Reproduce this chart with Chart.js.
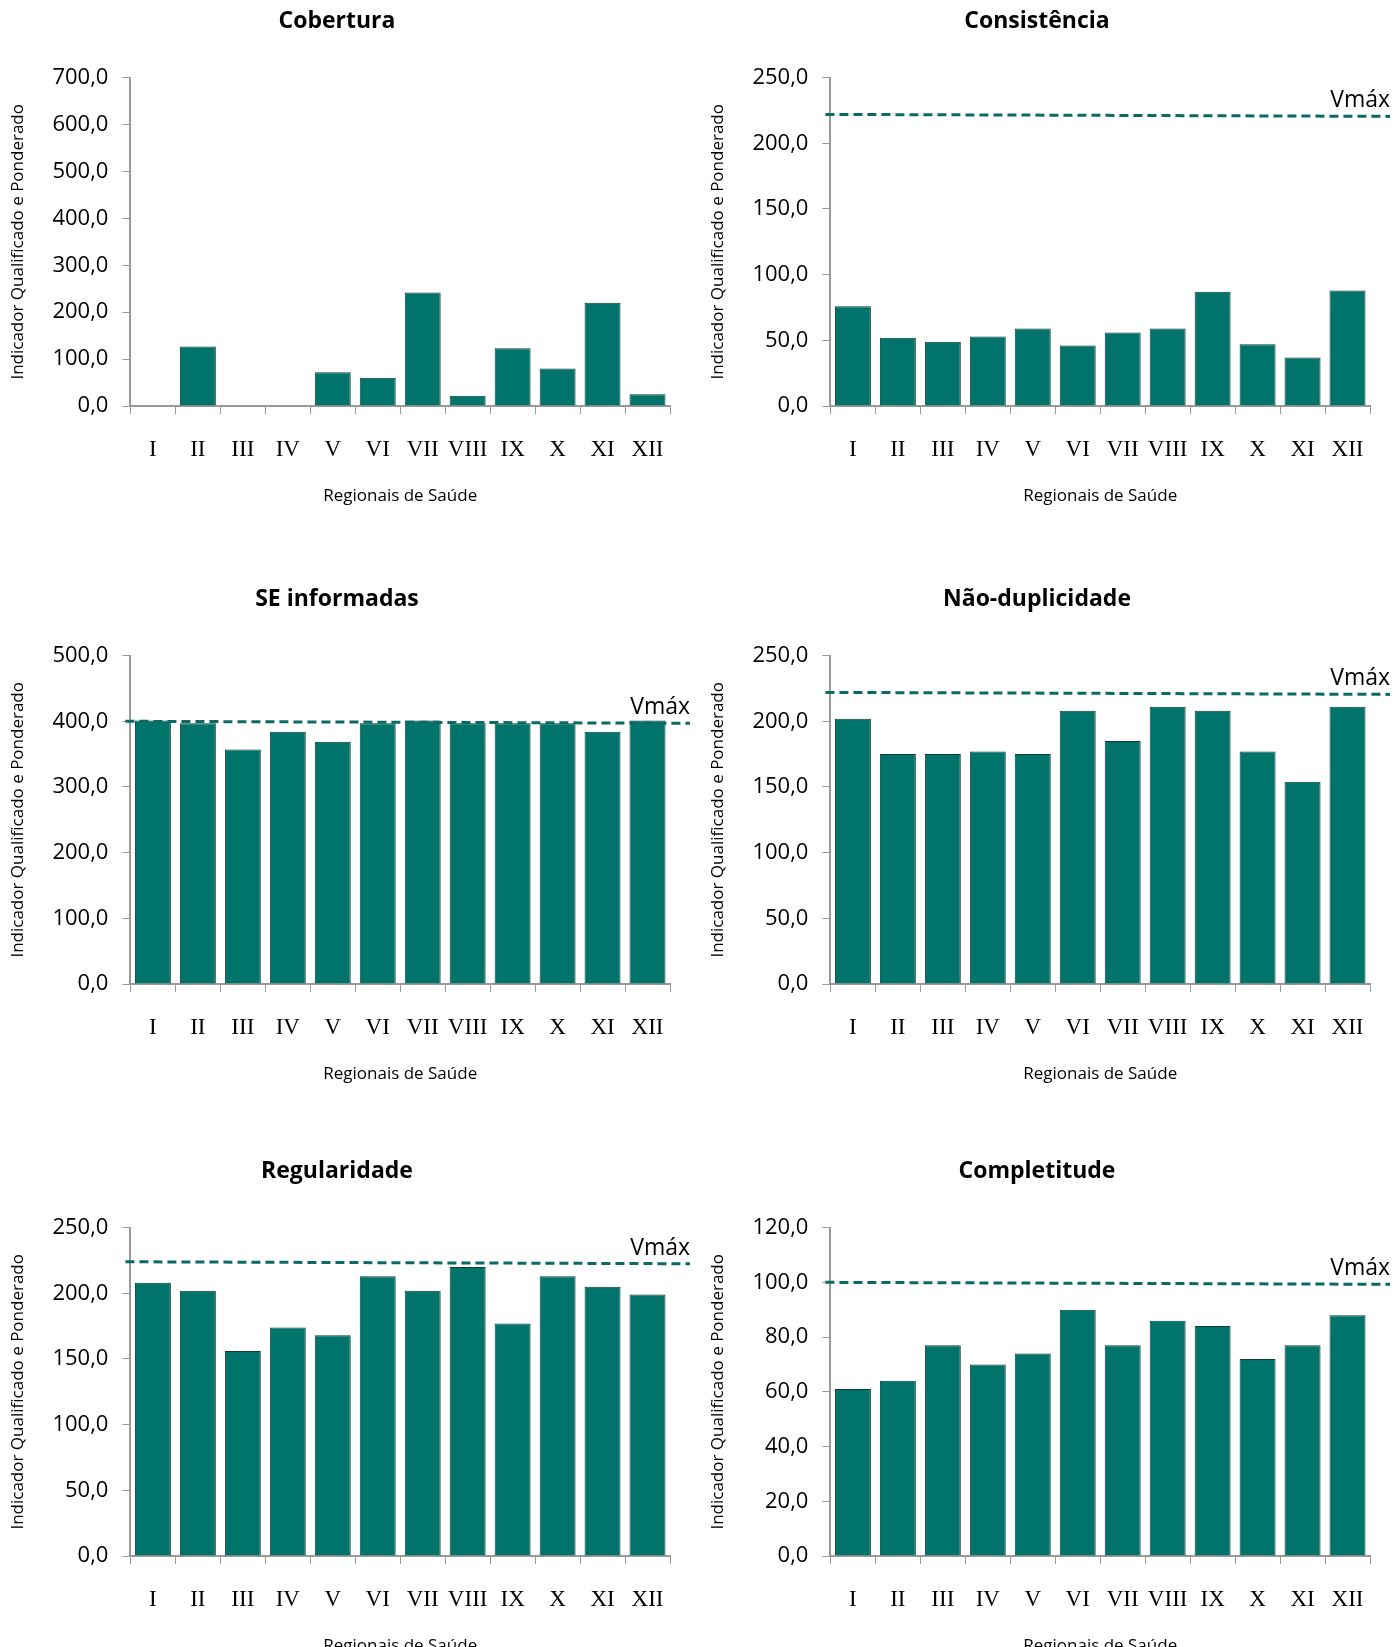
<!DOCTYPE html>
<html><head><meta charset="utf-8">
<script src="https://cdn.jsdelivr.net/npm/chart.js@4.4.1/dist/chart.umd.min.js"></script>
<style>
body{margin:0;background:#fff;width:1397px;height:1647px;overflow:hidden}
.p{position:absolute;width:698px;height:510px}
</style></head><body>
<div class="p" style="left:0;top:0"><canvas id="c0" width="698" height="510"></canvas></div>
<div class="p" style="left:700px;top:0"><canvas id="c1" width="698" height="510"></canvas></div>
<div class="p" style="left:0;top:578px"><canvas id="c2" width="698" height="510"></canvas></div>
<div class="p" style="left:700px;top:578px"><canvas id="c3" width="698" height="510"></canvas></div>
<div class="p" style="left:0;top:1150px"><canvas id="c4" width="698" height="510"></canvas></div>
<div class="p" style="left:700px;top:1150px"><canvas id="c5" width="698" height="510"></canvas></div>
<script>
const regions = ['I','II','III','IV','V','VI','VII','VIII','IX','X','XI','XII'];
const titles = ['Cobertura','Consistência','SE informadas','Não-duplicidade','Regularidade','Completitude'];
const cobertura = [0,127,0,0,72,60,242,22,123,80,220,25];
const consistencia = [76,52,49,53,59,46,56,59,87,47,37,88];
const seInformadas = [401,397,357,384,369,397,401,397,397,397,384,401];
const naoDuplicidade = [202,175,175,177,175,208,185,211,208,177,154,211];
const regularidade = [208,202,156,174,168,213,202,220,177,213,205,199];
const completitude = [61,64,77,70,74,90,77,86,84,72,77,88];
const yMax = [700,250,500,250,250,120];
const yStep = [100,50,100,50,50,20];
const vmax = [null,222,400,222,224,100];
const series = [cobertura,consistencia,seInformadas,naoDuplicidade,regularidade,completitude];

const teal = '#00736A';
const vmaxPlugin = {
  id: 'vmax',
  afterDatasetsDraw(chart, args, opts) {
    if (opts.value == null) return;
    const {ctx, chartArea} = chart;
    const y = chart.scales.y.getPixelForValue(opts.value);
    ctx.save();
    ctx.strokeStyle = '#0b6b64';
    ctx.lineWidth = 3;
    ctx.setLineDash([9,5]);
    ctx.beginPath();
    ctx.moveTo(chartArea.left - 5, y);
    ctx.lineTo(chartArea.right + 20, y + 2);
    ctx.stroke();
    ctx.fillStyle = '#000';
    ctx.font = '23px "Open Sans"';
    ctx.textAlign = 'right';
    ctx.textBaseline = 'bottom';
    ctx.fillText('Vmáx', chartArea.right + 20, y - 2);
    ctx.restore();
  }
};

series.forEach((data, i) => {
  new Chart(document.getElementById('c' + i), {
    type: 'bar',
    data: { labels: regions, datasets: [{ data, backgroundColor: teal, borderColor: '#0d3d39', borderWidth: 1, categoryPercentage: 0.8, barPercentage: 1 }] },
    plugins: [vmaxPlugin],
    options: {
      responsive: false, animation: false,
      layout: { padding: { left: 4, right: 28, top: 0, bottom: 0 } },
      plugins: {
        legend: { display: false }, tooltip: { enabled: false },
        title: { display: true, text: titles[i], color: '#000', font: { family: 'Open Sans', size: 23, weight: 'bold' }, padding: { top: 8, bottom: 42 } },
        vmax: { value: vmax[i] }
      },
      scales: {
        x: {
          grid: { display: true, drawOnChartArea: false, offset: true, tickLength: 8, color: '#999' },
          border: { color: '#999', width: 2 },
          ticks: { color: '#000', font: { family: 'Liberation Serif', size: 23 }, padding: 22, maxRotation: 0, autoSkip: false },
          title: { display: true, text: 'Regionais de Saúde', color: '#000', font: { family: 'Open Sans', size: 17 }, padding: { top: 0 } }
        },
        y: {
          min: 0, max: yMax[i],
          grid: { display: true, drawOnChartArea: false, tickLength: 8, color: '#999' },
          border: { color: '#999', width: 2 },
          ticks: { stepSize: yStep[i], color: '#000', font: { family: 'Open Sans', size: 22 }, padding: 14, callback: v => v.toFixed(1).replace('.', ',') },
          title: { display: true, text: 'Indicador Qualificado e Ponderado', color: '#000', font: { family: 'Open Sans', size: 17 }, padding: { bottom: 10 } }
        }
      }
    }
  });
});
</script>
</body></html>
